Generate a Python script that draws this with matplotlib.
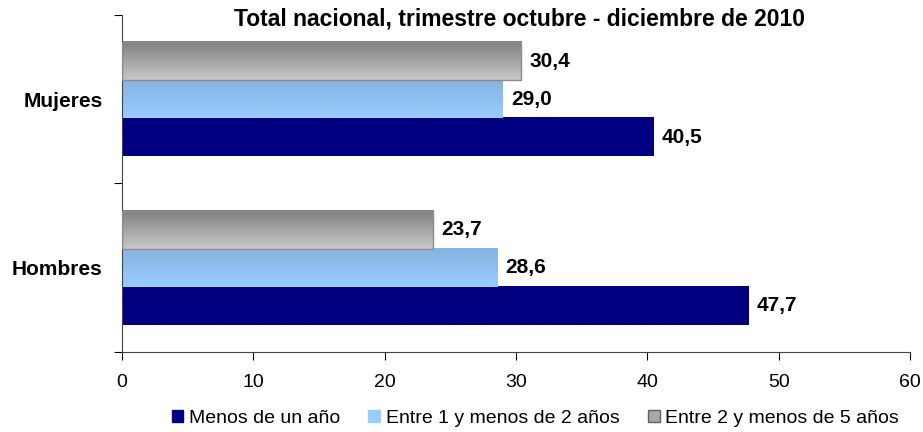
import numpy as np
import matplotlib.pyplot as plt
from matplotlib.colors import LinearSegmentedColormap
from matplotlib.patches import Patch

plt.rcParams['font.family'] = ['Liberation Sans', 'DejaVu Sans']

categories = ['Hombres', 'Mujeres']
series_names = ['Menos de un año', 'Entre 1 y menos de 2 años', 'Entre 2 y menos de 5 años']
menos_un_ano = [47.7, 40.5]
entre_1_2 = [28.6, 29.0]
entre_2_5 = [23.7, 30.4]
x_ticks = [0, 10, 20, 30, 40, 50, 60]

fig = plt.figure(figsize=(9.23, 4.32), dpi=100)
ax = fig.add_axes([0.1322, 0.1852, 0.8537, 0.7801])

y = np.arange(len(categories))
h = 0.226
series = [menos_un_ano, entre_1_2, entre_2_5]
offsets = [-h, 0, h]
# top colour, bottom colour (vertical gradient)
grads = [('#000080', '#000080'), ('#86b3e0', '#99ccff'), ('#808080', '#c8c8c8')]
edges = ['none', 'none', '#8c8c8c']

for vals, off, (c_top, c_bot), ec in zip(series, offsets, grads, edges):
    bars = ax.barh(y + off, vals, height=h, color='none', edgecolor=ec, linewidth=1, zorder=3)
    cmap = LinearSegmentedColormap.from_list('g', [c_bot, c_top])
    for b, v in zip(bars, vals):
        y0 = b.get_y()
        ax.imshow(np.linspace(0, 1, 64).reshape(-1, 1), cmap=cmap, aspect='auto',
                  extent=(0, v, y0, y0 + h), origin='lower', zorder=2, interpolation='bilinear')
        ax.text(v + 0.6, y0 + h / 2, f'{v:.1f}'.replace('.', ','), va='center', ha='left',
                fontsize=15, fontweight='bold')

ax.set_xlim(0, 60)
ax.set_ylim(-0.5, 1.5)
ax.set_xticks(x_ticks)
ax.set_xticklabels([str(t) for t in x_ticks], fontsize=14)
ax.set_yticks([-0.5, 0.5, 1.5])
ax.set_yticklabels([])
ax.set_yticks(y, minor=True)
ax.set_yticklabels(categories, minor=True, fontsize=15, fontweight='bold')
ax.tick_params(axis='y', which='minor', length=0, pad=14)
ax.tick_params(axis='y', which='major', length=6, direction='out')
ax.tick_params(axis='x', length=6, direction='out', pad=10)
for s in ['top', 'right']:
    ax.spines[s].set_visible(False)
for s in ['left', 'bottom']:
    ax.spines[s].set_color('#444444')

fig.text(0.563, 0.956, 'Total nacional, trimestre octubre - diciembre de 2010',
         ha='center', va='center', fontsize=16.5, fontweight='bold')

handles = [Patch(facecolor='#000080', edgecolor='#000080'),
           Patch(facecolor='#99ccff', edgecolor='#99ccff'),
           Patch(facecolor='#a8a8a8', edgecolor='#606060')]
fig.legend(handles, series_names, loc='center', bbox_to_anchor=(0.580, 0.032), ncol=3,
           frameon=False, fontsize=14, handlelength=0.6, handleheight=0.6,
           handletextpad=0.3, columnspacing=1.45)

fig.savefig('out.png', dpi=100)
